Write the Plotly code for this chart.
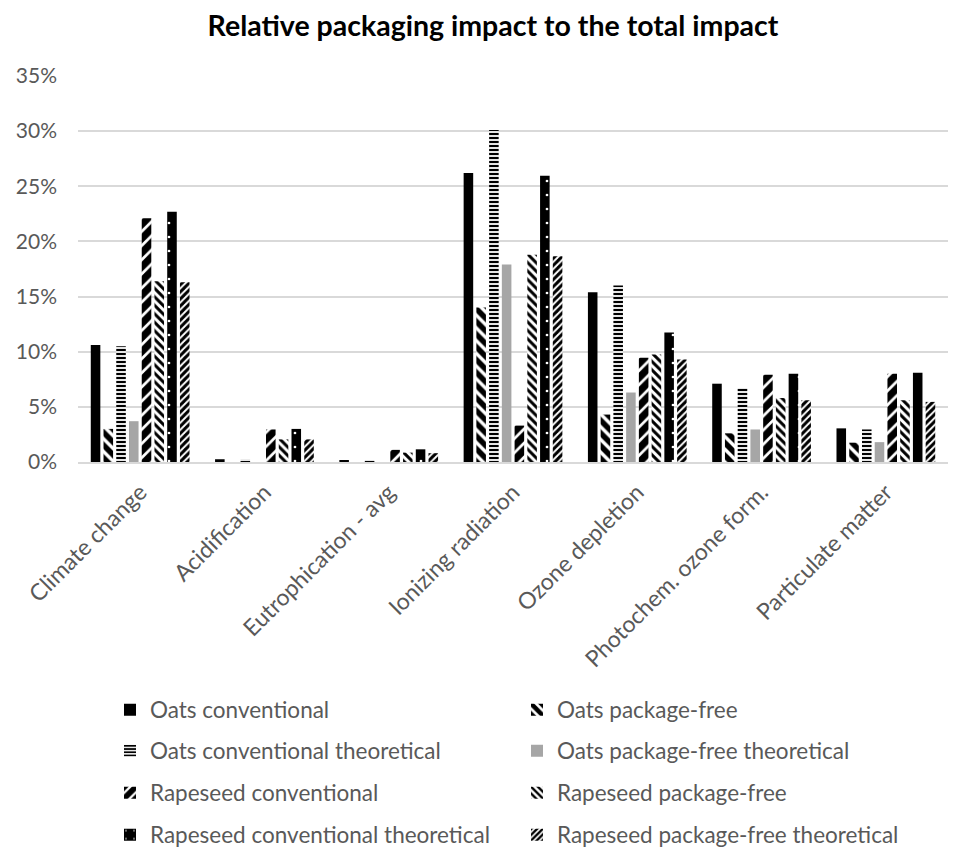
import plotly.graph_objects as go

# Impact categories (x axis)
categories = [
    "Climate change",
    "Acidification",
    "Eutrophication - avg",
    "Ionizing radiation",
    "Ozone depletion",
    "Photochem. ozone form.",
    "Particulate matter",
]

# Share of packaging in the total impact, in percent
oats_conventional = [10.6, 0.25, 0.15, 26.2, 15.4, 7.1, 3.05]
oats_package_free = [3.0, 0.0, 0.0, 14.0, 4.3, 2.6, 1.75]
oats_conventional_theoretical = [10.5, 0.25, 0.15, 30.1, 16.0, 6.7, 2.95]
oats_package_free_theoretical = [3.7, 0.0, 0.0, 17.9, 6.3, 2.95, 1.8]
rapeseed_conventional = [22.1, 2.95, 1.1, 3.3, 9.45, 7.9, 8.0]
rapeseed_package_free = [16.4, 2.05, 0.85, 18.8, 9.75, 5.8, 5.6]
rapeseed_conventional_theoretical = [22.7, 3.0, 1.15, 25.95, 11.75, 8.0, 8.1]
rapeseed_package_free_theoretical = [16.3, 2.05, 0.8, 18.65, 9.3, 5.6, 5.45]

y_ticks = [0, 5, 10, 15, 20, 25, 30, 35]
y_tick_labels = [f"{v}%" for v in y_ticks]

FONT = "Lato, Calibri, sans-serif"
GREY_TEXT = "#595959"
GRID = "#d9d9d9"

series = [
    ("Oats conventional", oats_conventional,
     dict(color="black")),
    ("Oats package-free", oats_package_free,
     dict(color="white", pattern=dict(shape="\\", fgcolor="black", bgcolor="white",
                                      size=9, solidity=0.62, fillmode="replace"))),
    ("Oats conventional theoretical", oats_conventional_theoretical,
     dict(color="white", pattern=dict(shape="-", fgcolor="black", bgcolor="white",
                                      size=4, solidity=0.55, fillmode="replace"))),
    ("Oats package-free theoretical", oats_package_free_theoretical,
     dict(color="#a6a6a6")),
    ("Rapeseed conventional", rapeseed_conventional,
     dict(color="white", pattern=dict(shape="/", fgcolor="black", bgcolor="white",
                                      size=10, solidity=0.72, fillmode="replace"))),
    ("Rapeseed package-free", rapeseed_package_free,
     dict(color="white", pattern=dict(shape="\\", fgcolor="black", bgcolor="white",
                                      size=6, solidity=0.5, fillmode="replace"))),
    ("Rapeseed conventional theoretical", rapeseed_conventional_theoretical,
     dict(color="black", pattern=dict(shape=".", fgcolor="white", bgcolor="black",
                                      size=14, solidity=0.03, fillmode="replace"))),
    ("Rapeseed package-free theoretical", rapeseed_package_free_theoretical,
     dict(color="white", pattern=dict(shape="/", fgcolor="black", bgcolor="white",
                                      size=5, solidity=0.6, fillmode="replace"))),
]

# Legend grid: two columns, four rows (row-major order)
col_x = [110, 517]
row_y = [710, 751, 793, 835]
W, H = 956, 858

fig = go.Figure()
legend_layouts = {}
for i, (name, vals, marker) in enumerate(series):
    lname = "legend" if i == 0 else f"legend{i + 1}"
    fig.add_trace(go.Bar(
        name=name, x=categories, y=vals,
        marker=dict(line=dict(width=0), **marker),
        legend=lname,
    ))
    r, c = divmod(i, 2)
    legend_layouts[lname] = dict(
        xref="container", yref="container",
        x=col_x[c] / W, y=1 - row_y[r] / H,
        xanchor="left", yanchor="middle",
        font=dict(family=FONT, size=22.5, color=GREY_TEXT),
        bgcolor="rgba(0,0,0,0)", borderwidth=0,
        itemwidth=30,
    )

fig.update_layout(
    width=W, height=H,
    paper_bgcolor="white", plot_bgcolor="white",
    margin=dict(l=78, r=8, t=76, b=396, autoexpand=False),
    barmode="group", bargap=0.18, bargroupgap=0.25,
    showlegend=True,
    title=dict(
        text="<b>Relative packaging impact to the total impact</b>",
        x=493 / W, xref="container", xanchor="center",
        y=1 - 26 / H, yref="container", yanchor="middle",
        font=dict(family=FONT, size=28.5, color="black"),
    ),
    font=dict(family=FONT, size=21, color=GREY_TEXT),
    **legend_layouts,
)

fig.update_yaxes(
    range=[0, 35], tickmode="array", tickvals=y_ticks, ticktext=y_tick_labels,
    showgrid=True, gridcolor=GRID, gridwidth=1.5,
    zeroline=False, showline=False, ticks="",
    ticklabelstandoff=20, automargin=False,
    tickfont=dict(family=FONT, size=21, color=GREY_TEXT),
)
fig.update_xaxes(
    showline=True, linecolor=GRID, linewidth=1.5,
    ticks="", tickangle=-45, automargin=False,
    ticklabelstandoff=6,
    tickfont=dict(family=FONT, size=23, color=GREY_TEXT),
)

fig.write_html("out.html")
